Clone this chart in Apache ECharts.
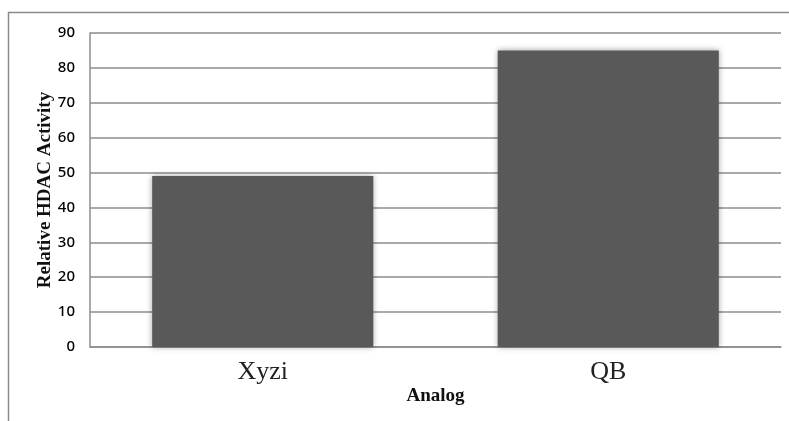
<!DOCTYPE html>
<html><head><meta charset="utf-8">
<script src="https://cdn.jsdelivr.net/npm/echarts@6/dist/echarts.min.js"></script>
<style>html,body{margin:0;padding:0;background:#fff}#c{width:789px;height:421px}</style>
</head><body><div id="c"></div>
<script>
const categories = ['Xyzi', 'QB'];
const values = [49, 85];
const yTicks = { min: 0, max: 90, interval: 10 };
const xName = 'Analog';
const yName = 'Relative HDAC Activity';

const chart = echarts.init(document.getElementById('c'), null, { renderer: 'canvas' });
chart.setOption({
  animation: false,
  backgroundColor: '#fff',
  graphic: [{
    type: 'rect', silent: true,
    shape: { x: 8.5, y: 12.5, width: 820, height: 430 },
    style: { fill: 'none', stroke: '#8a8a8a', lineWidth: 1.5 }
  }],
  grid: { left: 90, right: 8, top: 33, bottom: 74, containLabel: false },
  xAxis: {
    type: 'category', data: categories,
    name: xName, nameLocation: 'middle', nameGap: 40, nameMoveOverlap: false,
    nameTextStyle: { fontFamily: 'Liberation Serif', fontWeight: 'bold', fontSize: 19, color: '#111' },
    axisLine: { lineStyle: { color: '#8c8c8c', width: 1.5 } },
    axisTick: { show: false },
    axisLabel: { fontFamily: 'Liberation Serif', fontSize: 26, color: '#222', margin: 12 }
  },
  yAxis: {
    type: 'value', min: yTicks.min, max: yTicks.max, interval: yTicks.interval,
    name: yName, nameLocation: 'middle', nameGap: 35, nameRotate: 90, nameMoveOverlap: false,
    nameTextStyle: { fontFamily: 'Liberation Serif', fontWeight: 'bold', fontSize: 19, color: '#111' },
    axisLine: { show: true, lineStyle: { color: '#8c8c8c', width: 1.5 } },
    axisTick: { show: false },
    splitLine: { lineStyle: { color: '#8c8c8c', width: 1.5 } },
    axisLabel: { fontFamily: 'Noto Sans', fontSize: 15, fontWeight: 500, color: '#000', margin: 15 }
  },
  series: [{
    type: 'bar', data: values, barWidth: '64%',
    itemStyle: { color: '#595959', shadowColor: 'rgba(0,0,0,0.35)', shadowBlur: 6, shadowOffsetX: 0, shadowOffsetY: 0 }
  }]
});
</script></body></html>
